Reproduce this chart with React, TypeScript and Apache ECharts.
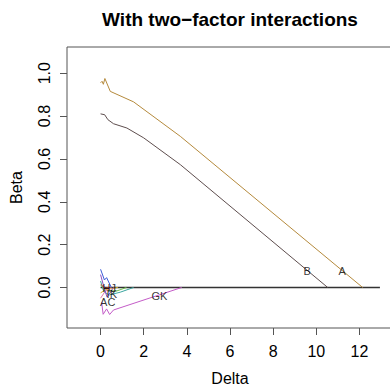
import React, { useEffect, useRef } from "react";
import * as echarts from "echarts";

// Coefficient paths (Delta vs Beta) for the model with two-factor interactions
const aDelta = [0, 0.07, 0.13, 0.2, 0.45, 1.53, 3.7, 12.15];
const aBeta = [0.955, 0.962, 0.948, 0.975, 0.915, 0.866, 0.705, 0];

const bDelta = [0, 0.19, 0.34, 0.6, 1.22, 2.0, 3.7, 10.53];
const bBeta = [0.81, 0.806, 0.783, 0.764, 0.744, 0.698, 0.573, 0];

const gkDelta = [0.05, 0.12, 0.28, 0.42, 0.6, 3.76];
const gkBeta = [-0.07, -0.125, -0.1, -0.126, -0.105, 0];

const blueDelta = [0, 0.18, 0.28, 0.5];
const blueBeta = [0.085, 0.035, 0.046, 0];

const tealDelta = [0, 0.15, 0.4, 0.91, 1.53];
const tealBeta = [0.03, -0.02, -0.035, -0.022, 0];

const greenDelta = [0, 0.3, 0.7, 1.2];
const greenBeta = [0.01, -0.012, -0.018, 0];

const redDelta = [0.02, 0.2, 0.45];
const redBeta = [0.015, -0.005, 0];

const orangeDelta = [0, 0.25, 0.8];
const orangeBeta = [-0.025, -0.01, 0];

const purpleDelta = [0, 0.12, 0.3, 0.6];
const purpleBeta = [0.06, 0.015, -0.045, 0];

const pinkDelta = [0, 0.2, 0.5];
const pinkBeta = [-0.05, -0.02, 0];

// Zero line shared by the inactive terms
const zeroDelta = [0, 12.95];
const zeroBeta = [0, 0];

// Path labels
const labelNames = ["A", "B", "GK", "HJ", "IK", "AC"];
const labelDelta = [11.2, 9.58, 2.73, 0.4, 0.52, 0.33];
const labelBeta = [0.075, 0.075, -0.038, -0.003, -0.031, -0.067];

const xTicks = [0, 2, 4, 6, 8, 10, 12];
const yTicks = [0, 0.2, 0.4, 0.6, 0.8, 1.0];

const FONT = "'Liberation Sans', Arial, Helvetica, sans-serif";

const pairs = (xs: number[], ys: number[]) => xs.map((x, i) => [x, ys[i]]);

const pathSeries = (xs: number[], ys: number[], color: string, width = 1) => ({
  type: "line",
  data: pairs(xs, ys),
  showSymbol: false,
  symbol: "none",
  lineStyle: { color, width },
  silent: true,
});

export default function App() {
  const ref = useRef<HTMLDivElement>(null);

  useEffect(() => {
    if (!ref.current) return;
    const chart = echarts.init(ref.current, null, { renderer: "svg" });
    chart.setOption({
      animation: false,
      backgroundColor: "#ffffff",
      textStyle: { fontFamily: FONT },
      graphic: [
        {
          type: "text",
          x: 230,
          y: 19,
          style: {
            text: "With two\u2212factor interactions",
            font: `bold 19px ${FONT}`,
            fill: "#000",
            textAlign: "center",
            textVerticalAlign: "middle",
          },
        },
      ],
      grid: {
        left: 67,
        top: 47,
        width: 326,
        height: 281,
        outerBoundsMode: "none",
        containLabel: false,
        show: true,
        borderColor: "#555",
        borderWidth: 1,
        backgroundColor: "transparent",
      },
      xAxis: {
        type: "value",
        min: -1.556,
        max: 13.556,
        name: "Delta",
        nameLocation: "middle",
        nameGap: 42,
        nameTextStyle: { fontSize: 16, color: "#000", fontFamily: FONT },
        axisLine: { show: false, onZero: false },
        splitLine: { show: false },
        axisTick: {
          show: true,
          inside: false,
          length: 7,
          customValues: xTicks,
          lineStyle: { color: "#555" },
        },
        axisLabel: {
          customValues: xTicks,
          margin: 15,
          fontSize: 16,
          color: "#000",
          fontFamily: FONT,
        },
      },
      yAxis: {
        type: "value",
        min: -0.189,
        max: 1.122,
        name: "Beta",
        nameLocation: "middle",
        nameGap: 43,
        nameTextStyle: { fontSize: 16, color: "#000", fontFamily: FONT },
        axisLine: { show: false, onZero: false },
        splitLine: { show: false },
        axisTick: {
          show: true,
          inside: false,
          length: 7,
          customValues: yTicks,
          lineStyle: { color: "#555" },
        },
        axisLabel: {
          customValues: yTicks,
          rotate: 90,
          margin: 15,
          fontSize: 16,
          color: "#000",
          fontFamily: FONT,
          formatter: (v: number) => v.toFixed(1),
        },
      },
      series: [
        pathSeries(zeroDelta, zeroBeta, "#333", 1.5),
        pathSeries(aDelta, aBeta, "#B58A3C"),
        pathSeries(bDelta, bBeta, "#5E4E4E"),
        pathSeries(gkDelta, gkBeta, "#C45CC8"),
        pathSeries(tealDelta, tealBeta, "#3AA6A0"),
        pathSeries(greenDelta, greenBeta, "#6CC04A"),
        pathSeries(orangeDelta, orangeBeta, "#E0B030"),
        pathSeries(pinkDelta, pinkBeta, "#E078B0"),
        pathSeries(purpleDelta, purpleBeta, "#8A4FC0"),
        pathSeries(blueDelta, blueBeta, "#3C5CD8"),
        pathSeries(redDelta, redBeta, "#E03A3A"),
        {
          type: "scatter",
          symbolSize: 0,
          silent: true,
          z: 10,
          data: labelNames.map((n, i) => ({
            name: n,
            value: [labelDelta[i], labelBeta[i]],
          })),
          label: {
            show: true,
            position: "inside",
            formatter: (p: any) => p.name,
            fontSize: 11,
            color: "#000",
            fontFamily: FONT,
          },
        },
      ],
    });
    return () => chart.dispose();
  }, []);

  return (
    <div
      ref={ref}
      style={{ position: "absolute", left: 0, top: 0, width: 390, height: 387 }}
    />
  );
}
